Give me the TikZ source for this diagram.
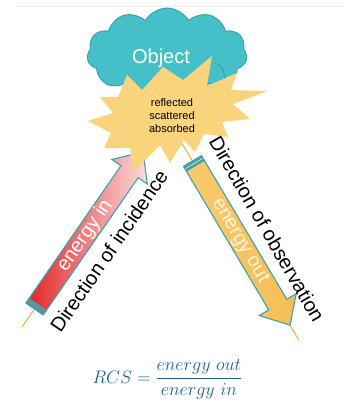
\documentclass[tikz,border=0pt]{standalone}
\usepackage{fontspec}
\newfontfamily\arial{Liberation Sans}
\usetikzlibrary{shapes.symbols}
\definecolor{cloudfill}{HTML}{45BFC8}
\definecolor{cloudline}{HTML}{2E9EA8}
\definecolor{starfill}{HTML}{FAD47C}
\definecolor{arrowline}{HTML}{3BA3AC}
\definecolor{redA}{HTML}{E32227}
\definecolor{redB}{HTML}{EC5A5C}
\definecolor{redC}{HTML}{FADCDC}
\definecolor{orA}{HTML}{F8CB6E}
\definecolor{orB}{HTML}{FCE2AC}
\definecolor{orC}{HTML}{F7BD55}
\definecolor{beam}{HTML}{F5A12B}
\definecolor{formula}{HTML}{23628B}
\tikzset{
  arrowbody/.style={draw=arrowline, line width=1.1pt, line join=miter},
  beamline/.style={draw=beam, line width=0.9pt},
  labeltwenty/.style={font=\arial\fontsize{20}{24}\selectfont, inner sep=0pt},
}
\begin{document}
\begin{tikzpicture}[x=1pt,y=-1pt]
\useasboundingbox[fill=white] (0,0) rectangle (344,401);
\draw[gray!12, line width=0.8pt] (15,6) -- (344,6);
% cloud
\node[cloud, cloud puffs=11, cloud puff arc=120, aspect=1.74, fill=cloudfill, draw=cloudline,
      line width=0.8pt, minimum width=160pt, minimum height=92pt, inner sep=0pt] (cloud) at (167,54) {};
\draw[cloudline, line width=0.8pt] (215,63) .. controls (223,67) .. (225,80);
\node[font=\arial\fontsize{20}{24}\selectfont, text=white, anchor=base, inner sep=0pt] (obj) at (161,64) {Object};
% incident arrow
\begin{scope}[shift={(34.5,309)}, rotate=55.3]
  \draw[beamline] (-22,0) -- (0,0);
  \shade[arrowbody, left color=redA, middle color=redB, right color=redC]
    (0,-10.5) -- (167,-10.5) -- (167,-21.5) -- (191,0) -- (167,21.5) -- (167,10.5) -- (0,10.5) -- cycle;
  \fill[arrowline] (0,-10.5) rectangle (6,10.5);
  \draw[redB, line width=0.7pt] (3,-10) -- (3,10);
\end{scope}
% observed arrow
\begin{scope}[shift={(192.5,161)}, rotate=-59.3]
  \draw[beamline] (-25,0) -- (0,0);
  \draw[beamline] (191,0) -- (208,0);
  \shade[arrowbody, left color=orA, middle color=orB, right color=orC]
    (0,-10.5) -- (167,-10.5) -- (167,-21.5) -- (191,0) -- (167,21.5) -- (167,10.5) -- (0,10.5) -- cycle;
  \fill[arrowline] (0,-10.5) rectangle (6,10.5);
  \draw[orB, line width=0.7pt] (3,-10) -- (3,10);
\end{scope}
% starburst
\fill[starfill] (212,56) -- (207,86) -- (237,73) -- (231,90) -- (268,91) -- (233,104)
  -- (250,119) -- (222,122) -- (228,137) -- (204,134) -- (195,152) -- (184,140)
  -- (170,163) -- (160,145) -- (133,172) -- (130,148) -- (104,148) -- (111,133)
  -- (88,121) -- (113,113) -- (100,97) -- (118,97) -- (127,75) -- (142,90)
  -- (163,67) -- (183,80) -- cycle;
\node[font=\arial\fontsize{11}{13.3}\selectfont, align=center, inner sep=0pt] (proc) at (172,115.5)
  {reflected\\scattered\\absorbed};
% labels
\node[labeltwenty, rotate=55.5, text=white] (ein) at (85.1,235.8) {energy in};
\node[labeltwenty, rotate=-59.3, text=orB!40!white] (eout) at (239.9,241) {energy out};
\node[labeltwenty, rotate=55.5] (dinc) at (109,251) {Direction of incidence};
\node[labeltwenty, rotate=-60] (dobs) at (267,229) {Direction of observation};
% formula
\node[text=formula, inner sep=0pt, scale=1.05] (rcs) at (167.5,379.5)
  {\fontsize{17.28}{21}\selectfont $\displaystyle RCS=\frac{energy\ out}{energy\ in}$};
\end{tikzpicture}
\end{document}
